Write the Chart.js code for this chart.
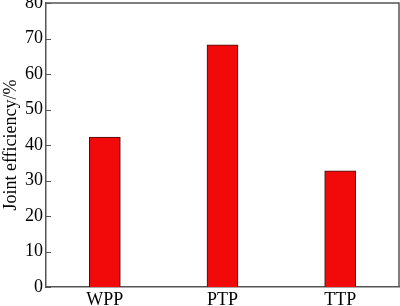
<!DOCTYPE html>
<html>
<head>
<meta charset="utf-8">
<script src="https://cdn.jsdelivr.net/npm/chart.js@4.4.1/dist/chart.umd.min.js"></script>
<style>
  html, body { margin: 0; padding: 0; background: #fff; }
  #wrap { width: 400px; height: 306px; }
</style>
</head>
<body>
<div id="wrap"><canvas id="effChart"></canvas></div>
<script>
// joint efficiency per process
const categories = ["WPP", "PTP", "TTP"];
const efficiency = [42.2, 68.2, 32.7];
const yTicks = [0, 10, 20, 30, 40, 50, 60, 70, 80];

const axisColor = '#555555';

// inward ticks + top/right frame lines
const framePlugin = {
    id: 'frame',
    afterDraw(chart) {
        const { ctx, chartArea, scales } = chart;
        ctx.save();
        ctx.strokeStyle = axisColor;
        ctx.lineWidth = 1.5;
        ctx.beginPath();
        ctx.moveTo(chartArea.left, chartArea.top);
        ctx.lineTo(chartArea.right, chartArea.top);
        ctx.lineTo(chartArea.right, chartArea.bottom);
        ctx.stroke();
        ctx.lineWidth = 1;
        yTicks.forEach(v => {
            const y = Math.round(scales.y.getPixelForValue(v)) + 0.5;
            ctx.beginPath();
            ctx.moveTo(chartArea.left, y);
            ctx.lineTo(chartArea.left + 5, y);
            ctx.stroke();
        });
        ctx.restore();
    }
};

const ctx = document.getElementById('effChart').getContext('2d');
new Chart(ctx, {
    type: 'bar',
    data: {
        labels: categories,
        datasets: [{
            label: 'Joint efficiency',
            data: efficiency,
            backgroundColor: '#f20a0a',
            borderColor: '#3a1010',
            borderWidth: 1,
            barThickness: 31
        }]
    },
    options: {
        responsive: true,
        maintainAspectRatio: false,
        animation: false,
        layout: { padding: { top: 3, right: 1, left: 0, bottom: 0 } },
        plugins: {
            legend: { display: false },
            tooltip: { enabled: false }
        },
        scales: {
            x: {
                grid: { display: false, drawTicks: false },
                border: { display: true, color: axisColor, width: 1.5 },
                ticks: {
                    color: '#000',
                    padding: 2,
                    font: { family: 'Liberation Serif', size: 18 }
                },
                afterFit(scale) { scale.height = 19; }
            },
            y: {
                min: 0,
                max: 80,
                afterBuildTicks(scale) {
                    scale.ticks = yTicks.map(v => ({ value: v }));
                },
                grid: { display: false, drawTicks: false },
                border: { display: true, color: axisColor, width: 1.5 },
                ticks: {
                    color: '#000',
                    padding: 3,
                    font: { family: 'Liberation Serif', size: 18 }
                },
                title: {
                    display: true,
                    text: 'Joint efficiency/%',
                    color: '#000',
                    padding: 0,
                    font: { family: 'Liberation Serif', size: 18 }
                },
                afterFit(scale) {
                    scale.width = 46;
                    scale.paddingTop = 0; // let the top label overhang like the original
                    scale.paddingBottom = 0;
                }
            }
        }
    },
    plugins: [framePlugin]
});
</script>
</body>
</html>
